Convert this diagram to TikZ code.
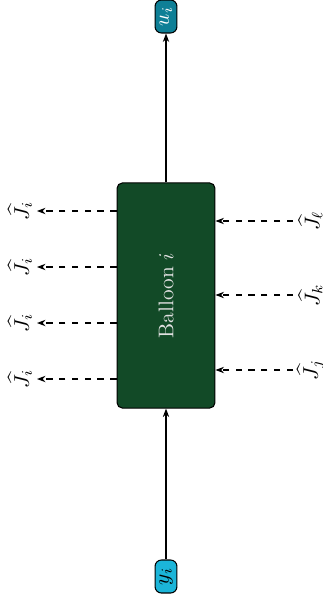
\documentclass[tikz,border=0pt]{standalone}
\usetikzlibrary{arrows.meta}
\definecolor{tealU}{HTML}{0E7F96}
\definecolor{cyanY}{HTML}{1BB5D9}
\definecolor{balloonG}{HTML}{124A27}
\begin{document}
\begin{tikzpicture}[x=0.47pt,y=-0.47pt,
  sig/.style={draw=black,rounded corners=3pt,line width=0.5pt,minimum width=10.3pt,minimum height=15.5pt,inner sep=0pt},
  blk/.style={draw=black,rounded corners=2.5pt,fill=balloonG,line width=0.5pt,minimum width=46pt,minimum height=105.8pt,inner sep=0pt,text=white!88!black},
  lbl/.style={inner sep=0pt,rotate=90},
  flow/.style={-{Stealth[length=4pt,width=3pt]},line width=0.5pt},
  cpl/.style={-{Stealth[length=4pt,width=3pt]},dashed,line width=0.5pt}]
\useasboundingbox (0,0) rectangle (323,603);
\node[blk] (B) at (166,295.5) {\rotatebox{90}{Balloon $i$}};
\node[sig,fill=tealU,text=white] (U) at (166,16.5) {\rotatebox{90}{$u_i$}};
\node[sig,fill=cyanY,text=black] (Y) at (166,576.5) {\rotatebox{90}{$y_i$}};
\draw[flow] (B.north) -- (U.south);
\draw[flow] (Y.north) -- (B.south);
% outputs (left)
\foreach \yy/\n in {211/1,267/2,323/3,379/4}{
  \coordinate (o\n) at (37,\yy);
  \node[lbl] (ol\n) at (20,\yy) {$\widehat{J}_i$};
  \draw[cpl] (B.west |- o\n) -- (o\n);
}
% inputs (right)
\foreach \yy/\n/\s in {221/1/\ell,295/2/k,370/3/j}{
  \coordinate (i\n) at (293,\yy);
  \node[lbl] (il\n) at (310.5,\yy) {$\widehat{J}_{\s}$};
  \draw[cpl] (i\n) -- (B.east |- i\n);
}
\end{tikzpicture}
\end{document}
